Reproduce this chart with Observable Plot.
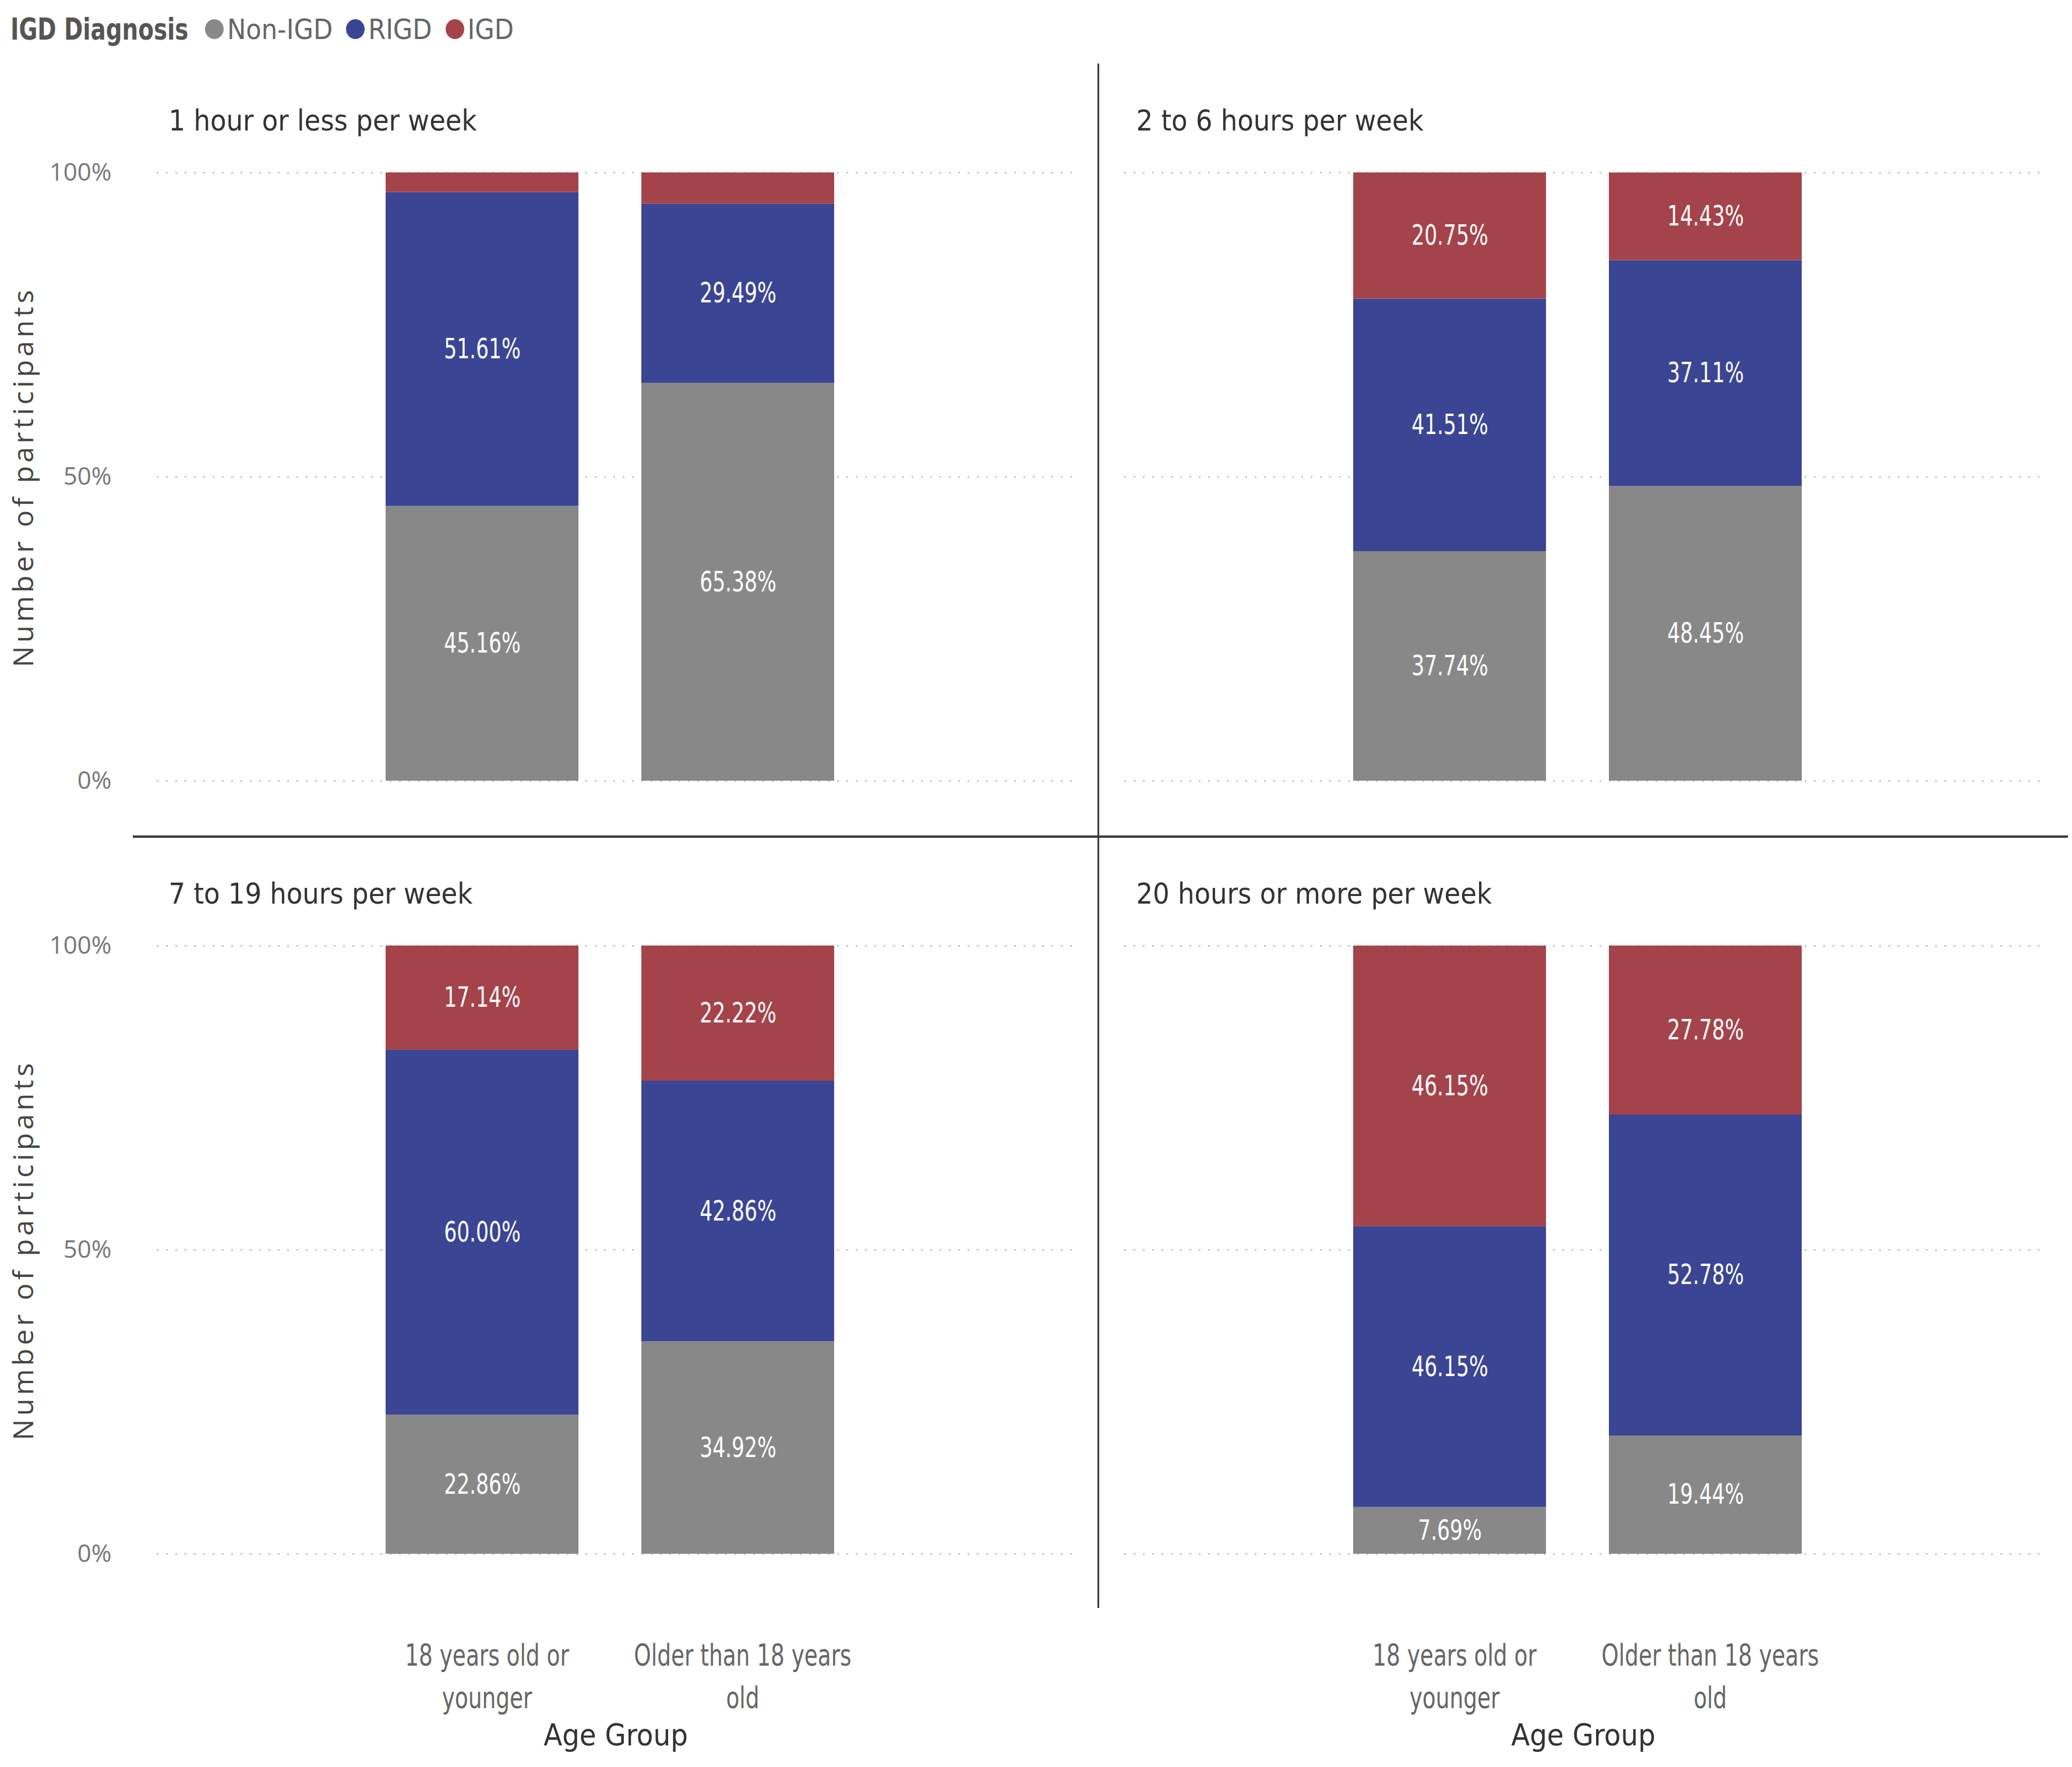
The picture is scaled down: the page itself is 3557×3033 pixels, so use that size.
<!DOCTYPE html>
<html>
<head>
<meta charset="utf-8">
<script src="https://cdn.jsdelivr.net/npm/d3@7"></script>
<script src="https://cdn.jsdelivr.net/npm/@observablehq/plot@0.6"></script>
<style>
  html, body { margin: 0; padding: 0; background: #fff; }
  #root { position: relative; width: 3557px; height: 3033px; overflow: hidden; background: #fff; }
  #legend { position: absolute; left: 18px; top: 22px; height: 56px; display: flex; align-items: center; white-space: nowrap; }
  #legend .ttl { font-family: "DejaVu Sans Condensed", "DejaVu Sans", sans-serif; font-weight: bold; font-size: 52px; color: #555; display: inline-block; transform: scaleX(0.83); transform-origin: left center; margin-right: -34px; }
  #legend .sw { width: 32px; height: 34px; border-radius: 50%; display: inline-block; margin-right: 6px; }
  #legend .lab { font-family: "DejaVu Sans Condensed", sans-serif; font-size: 48px; color: #666; margin-right: 23px; }
  #chart { position: absolute; left: 0; top: 110px; }
  .divider { position: absolute; background: #3a3a3a; }
</style>
</head>
<body>
<div id="root">
  <div id="legend"></div>
  <div id="chart"></div>
  <div class="divider" style="left:228px; top:1434px; width:3322px; height:4px;"></div>
  <div class="divider" style="left:1884px; top:109px; width:3px; height:2651px;"></div>
</div>
<script>
// ---- data ----
const hours = ["1 hour or less per week", "2 to 6 hours per week", "7 to 19 hours per week", "20 hours or more per week"];
const ages = ["18 years old or younger", "Older than 18 years old"];
const ageTickLabels = ["18 years old or\nyounger", "Older than 18 years\nold"];
const diagnoses = ["Non-IGD", "RIGD", "IGD"];
const diagColors = ["#888888", "#3a4594", "#a5434b"];
const yTicks = [0, 50, 100];
// values per hours group, [young, older]
const nonIGD = [[45.16, 65.38], [37.74, 48.45], [22.86, 34.92], [7.69, 19.44]];
const rigd   = [[51.61, 29.49], [41.51, 37.11], [60.00, 42.86], [46.15, 52.78]];
const igd    = [[3.23, 5.13], [20.75, 14.43], [17.14, 22.22], [46.15, 27.78]];
const yTitle = "Number of participants";
const xTitle = "Age Group";
const legendTitle = "IGD Diagnosis";

// ---- table ----
const series = [nonIGD, rigd, igd];
const rows = [];
hours.forEach((h, hi) => {
  ages.forEach((a, ai) => {
    diagnoses.forEach((dg, di) => {
      rows.push({hours: h, col: hi % 2, row: Math.floor(hi / 2), age: a, diagnosis: dg, value: series[di][hi][ai]});
    });
  });
});
const titleData = hours.map((h, hi) => ({title: h, col: hi % 2, row: Math.floor(hi / 2)}));

// ---- legend ----
const legend = document.getElementById("legend");
legend.innerHTML = `<span class="ttl">${legendTitle}</span>` +
  diagnoses.map((d, i) => `<span class="sw" style="background:${diagColors[i]}"></span><span class="lab">${d}</span>`).join("");

const cond = "'DejaVu Sans Condensed', 'DejaVu Sans', sans-serif";
const open = "'Open Sans', 'DejaVu Sans', sans-serif";

const chart = Plot.plot({
  width: 3557,
  height: 2923,
  marginLeft: 269,
  marginRight: 52,
  marginTop: 186,
  marginBottom: 366,
  style: {background: "transparent", overflow: "visible"},
  fx: {domain: [0, 1], axis: null, paddingInner: 0.052, paddingOuter: 0},
  fy: {domain: [0, 1], axis: null, paddingInner: 0.2133, paddingOuter: 0},
  x: {domain: ages, paddingInner: 0.246, paddingOuter: 0.916, align: 0.4876},
  y: {domain: [0, 100]},
  color: {domain: diagnoses, range: diagColors},
  marks: [
    Plot.gridY(yTicks, {stroke: "#c8c8c8", strokeOpacity: 1, strokeWidth: 3, strokeDasharray: "3,13"}),
    Plot.barY(rows, Plot.stackY({fx: "col", fy: "row", x: "age", y: "value", fill: "diagnosis"})),
    Plot.text(rows, Plot.stackY({
      fx: "col", fy: "row", x: "age", y: "value",
      text: d => d.value >= 6 ? d.value.toFixed(2) + "%" : null,
      fill: "white", fontSize: 48, fontFamily: cond, className: "narrow"
    })),
    Plot.axisY({
      ticks: yTicks, tickFormat: d => d + "%", tickSize: 0, tickPadding: 78, label: null,
      fontSize: 42, fontFamily: open, fill: "#777", facetAnchor: "left"
    }),
    Plot.axisX({
      tickFormat: d => ageTickLabels[ages.indexOf(d)], tickSize: 0, tickPadding: 140, dx: 8, label: null,
      fontSize: 52, fontFamily: cond, fill: "#666", lineHeight: 1.4, facetAnchor: "bottom", className: "narrow"
    }),
    Plot.text(titleData, {
      fx: "col", fy: "row", text: "title", frameAnchor: "top-left", dx: 20, dy: -89,
      textAnchor: "start", lineAnchor: "middle", fontSize: 50, fontFamily: cond, fill: "#333"
    }),
    Plot.text([yTitle], {
      text: d => d, frameAnchor: "left", rotate: -90, dx: -228, textAnchor: "middle", lineAnchor: "middle",
      fontSize: 48, fontFamily: open, fill: "#444", facetAnchor: "left", className: "ytitle"
    }),
    Plot.text([xTitle], {
      text: d => d, frameAnchor: "bottom", dy: 312, lineAnchor: "middle",
      fontSize: 52, fontFamily: cond, fill: "#333", facetAnchor: "bottom"
    })
  ]
});
document.getElementById("chart").appendChild(chart);

// letter spacing for the y-axis titles
chart.querySelectorAll(".ytitle text").forEach(t => t.setAttribute("letter-spacing", "6"));
// horizontally condense the narrow-font labels (bar labels, age tick labels)
chart.querySelectorAll(".narrow text").forEach(t => {
  const tr = t.getAttribute("transform");
  if (tr) {
    t.setAttribute("transform", tr + " scale(0.8,1)");
  } else {
    const x = +(t.getAttribute("x") || 0), y = +(t.getAttribute("y") || 0);
    t.removeAttribute("x"); t.removeAttribute("y");
    t.setAttribute("transform", `translate(${x},${y}) scale(0.8,1)`);
  }
});
</script>
</body>
</html>
